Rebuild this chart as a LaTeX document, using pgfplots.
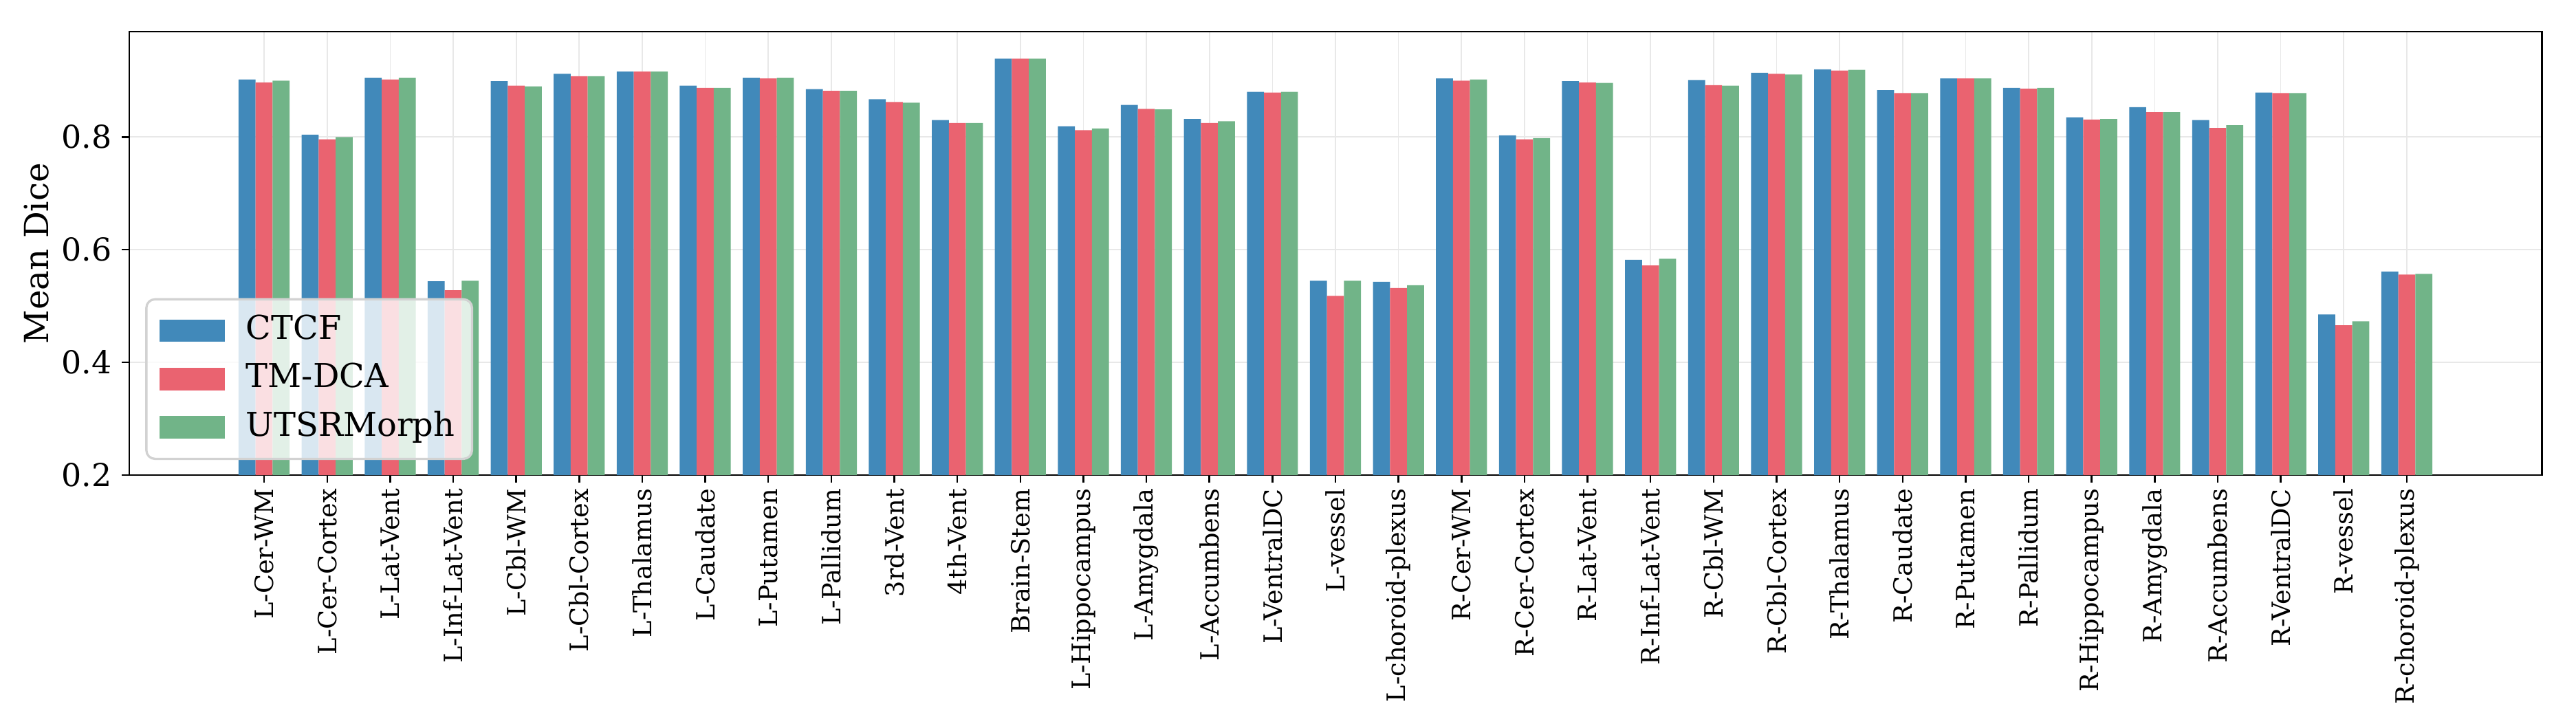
\documentclass[border=0pt]{standalone}
\usepackage{fontspec}
\setmainfont{DejaVu Serif}
\usepackage{pgfplots}
\pgfplotsset{compat=1.18}
\usepackage{pgfplotstable}
\definecolor{blueC}{RGB}{65,137,186}
\definecolor{redC}{RGB}{234,99,112}
\definecolor{greenC}{RGB}{113,180,136}
\pgfplotstableread{
x ctcf tmdca utsr
0 0.902 0.897 0.900
1 0.804 0.796 0.800
2 0.905 0.902 0.905
3 0.544 0.528 0.545
4 0.899 0.891 0.890
5 0.912 0.908 0.908
6 0.916 0.916 0.916
7 0.891 0.887 0.887
8 0.905 0.904 0.905
9 0.885 0.882 0.882
10 0.867 0.862 0.861
11 0.830 0.825 0.825
12 0.939 0.939 0.939
13 0.819 0.812 0.815
14 0.857 0.850 0.849
15 0.832 0.825 0.828
16 0.880 0.879 0.880
17 0.545 0.518 0.545
18 0.543 0.532 0.537
19 0.904 0.900 0.902
20 0.803 0.796 0.798
21 0.899 0.897 0.896
22 0.582 0.572 0.584
23 0.901 0.892 0.891
24 0.914 0.912 0.911
25 0.920 0.918 0.919
26 0.883 0.878 0.878
27 0.904 0.904 0.904
28 0.887 0.886 0.887
29 0.835 0.831 0.832
30 0.853 0.844 0.844
31 0.830 0.816 0.821
32 0.879 0.878 0.878
33 0.485 0.466 0.473
34 0.561 0.556 0.557
}\data
\begin{document}
\begin{tikzpicture}
\begin{axis}[
  name=ax,
  scale only axis,
  width=841.92pt, height=154.8pt,
  xmin=-2.14, xmax=36.14,
  ymin=0.2, ymax=0.987,
  ybar, bar width=0.27,
  xtick={0,...,34},
  xticklabels={L-Cer-WM,L-Cer-Cortex,L-Lat-Vent,L-Inf-Lat-Vent,L-Cbl-WM,L-Cbl-Cortex,L-Thalamus,L-Caudate,L-Putamen,L-Pallidum,3rd-Vent,4th-Vent,Brain-Stem,L-Hippocampus,L-Amygdala,L-Accumbens,L-VentralDC,L-vessel,L-choroid-plexus,R-Cer-WM,R-Cer-Cortex,R-Lat-Vent,R-Inf-Lat-Vent,R-Cbl-WM,R-Cbl-Cortex,R-Thalamus,R-Caudate,R-Putamen,R-Pallidum,R-Hippocampus,R-Amygdala,R-Accumbens,R-VentralDC,R-vessel,R-choroid-plexus},
  xticklabel style={rotate=90, anchor=east, font=\fontsize{8.8}{10}\selectfont, inner sep=2pt},
  ytick={0.2,0.4,0.6,0.8},
  yticklabel style={font=\fontsize{11}{13}\selectfont, /pgf/number format/.cd, fixed, fixed zerofill, precision=1, assume math mode=true},
  ylabel={Mean Dice},
  every axis y label/.style={at={(axis description cs:-0.0385,0.5)}, rotate=90, anchor=center, font=\fontsize{11.6}{14}\selectfont},
  tick align=outside, xtick pos=bottom, ytick pos=left,
  major tick length=2.6pt,
  major tick style={black, line width=0.6pt},
  axis line style={line width=0.7pt},
  grid=major,
  major grid style={gray!18, line width=0.4pt},
  legend image code/.code={\path[#1,draw=none,sharp corners,fill opacity=1] (0pt,-3.95pt) rectangle (22.8pt,3.95pt);},
  legend cell align=left,
  legend style={at={(axis description cs:0.0066,0.034)}, anchor=south west,
    draw=gray!35, line width=0.8pt, rounded corners=3pt,
    fill=white, fill opacity=0.8, text opacity=1,
    font=\fontsize{11.5}{14}\selectfont,
    inner xsep=4.5pt, inner ysep=3.3pt, row sep=1.6pt,
    /tikz/every even column/.append style={column sep=0pt},
    /tikz/every odd column/.append style={column sep=6pt},
    nodes={inner xsep=1.5pt, inner ysep=2pt, text height=8.6pt, text depth=2.7pt}},
]
\addplot[fill=blueC, draw=none, bar shift=-0.27] table[x=x, y=ctcf] {\data};
\addlegendentry{CTCF}
\addplot[fill=redC, draw=none, bar shift=0] table[x=x, y=tmdca] {\data};
\addlegendentry{TM-DCA}
\addplot[fill=greenC, draw=none, bar shift=0.27] table[x=x, y=utsr] {\data};
\addlegendentry{UTSRMorph}
\end{axis}
\path ([xshift=-45.12pt,yshift=-87.36pt]ax.south west) rectangle ([xshift=12pt,yshift=11.04pt]ax.north east);
\end{tikzpicture}
\end{document}
